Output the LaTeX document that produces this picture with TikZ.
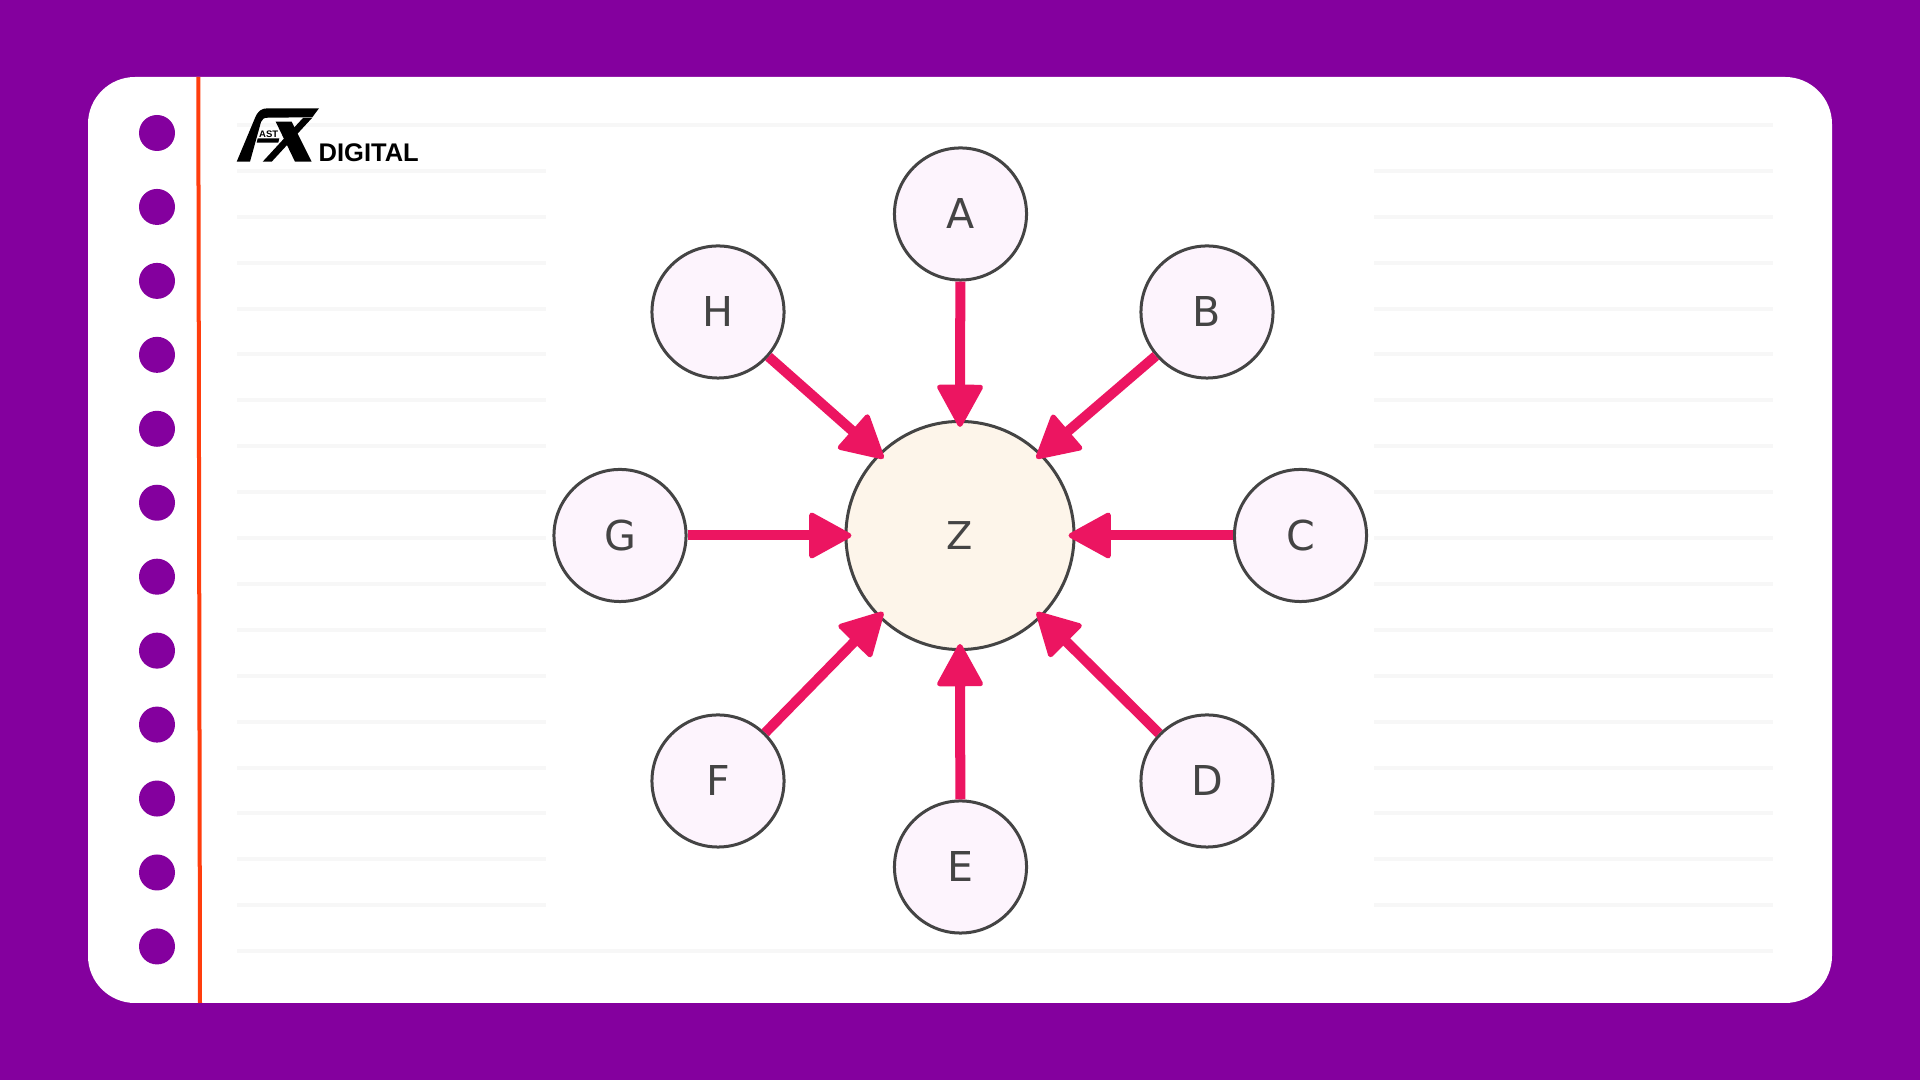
\documentclass[tikz,border=0pt]{standalone}
\usepackage{xcolor}
\usepackage{fontspec}
\usetikzlibrary{arrows.meta}
\newfontfamily\labelfont{DejaVu Sans}
\newfontfamily\logofont[BoldFont={Liberation Sans Bold}]{Liberation Sans}
\definecolor{ppurple}{HTML}{84009E}
\definecolor{marginred}{HTML}{FF3D0D}
\definecolor{rulegray}{HTML}{F7F7F7}
\definecolor{edgepink}{HTML}{EC1561}
\definecolor{nodeline}{HTML}{444444}
\definecolor{nodefill}{HTML}{FDF4FD}
\definecolor{hubfill}{HTML}{FDF5EA}
\tikzset{
  outernode/.style={circle,draw=nodeline,line width=0.03cm,fill=nodefill,minimum size=1.32cm,inner sep=0pt,text=nodeline,font=\labelfont\fontsize{11.7}{14}\selectfont},
  hubnode/.style={outernode,fill=hubfill,minimum size=2.28cm,font=\labelfont\fontsize{10.9}{13}\selectfont},
  edgearrow/.style={-{Triangle[length=0.45cm,width=0.48cm,round,line width=0.05cm]},line width=0.1cm,color=edgepink,shorten >=-0.07cm},
  ruleline/.style={line width=0.04cm,color=rulegray}
}
\begin{document}
\begin{tikzpicture}[line cap=butt,line join=round,x=0.01cm,y=-0.01cm]
\useasboundingbox (0,0) rectangle (1920,1080);
\fill[ppurple] (0,0) rectangle (1920,1080);
\fill[white,rounded corners=0.47cm] (88,77) rectangle (1832,1003);
% binding holes and margin
\foreach \i in {0,...,11}
  \fill[ppurple] (157,{133+73.95*\i}) circle (18);
\draw[line width=0.04cm,marginred] (198.3,77) -- (200,1003);
% ruled paper
\foreach \i in {0,18}
  \draw[ruleline] (237,{125+45.9*\i}) -- (1773,{125+45.9*\i});
\foreach \i in {1,...,17}{
  \draw[ruleline] (237,{125+45.9*\i}) -- (546,{125+45.9*\i});
  \draw[ruleline] (1374,{125+45.9*\i}) -- (1773,{125+45.9*\i});
}
% logo
\fill[black] (236.7,161.7) -- (255,118) .. controls (258,111) and (261,108.3) .. (268,108.3) -- (319,108.3) -- (312.3,117.3) -- (268,117.7) .. controls (264,117.7) and (262,119) .. (261,122) -- (250,161.7) -- cycle;
\fill[black] (275.7,121.7) -- (291.7,121.7) -- (311.7,161.7) -- (295,161.7) -- cycle;
\fill[black] (312,118) -- (271.7,161.7) -- (262.7,161.7) -- (303,118) -- cycle;
\fill[black] (257.7,138.3) -- (279.3,138.3) -- (278.3,142.7) -- (256.7,142.7) -- cycle;
\node[anchor=base west,inner sep=0pt,text=black,font=\logofont\bfseries\fontsize{2.7}{3}\selectfont] (logoast) at (258.5,137.7) {AST};
\node[anchor=base west,inner sep=0pt,text=black,font=\logofont\bfseries\fontsize{7.25}{8}\selectfont] (logodigital) at (318,161.7) {DIGITAL};
% nodes
\node[hubnode] (Z) at (960,535.5) {Z};
\node[outernode] (A) at (960.5,214) {A};
\node[outernode] (B) at (1207,312) {B};
\node[outernode] (C) at (1300.5,535.5) {C};
\node[outernode] (D) at (1207,781) {D};
\node[outernode] (E) at (960.5,867) {E};
\node[outernode] (F) at (718,781) {F};
\node[outernode] (G) at (620,535.5) {G};
\node[outernode] (H) at (718,312) {H};
% arrows into the hub
\draw[edgearrow] (A) -- (Z.90);
\draw[edgearrow] (B) -- (Z.45);
\draw[edgearrow] (C) -- (Z.0);
\draw[edgearrow] (D) -- (Z.315);
\draw[edgearrow] (E) -- (Z.270);
\draw[edgearrow] (F) -- (Z.225);
\draw[edgearrow] (G) -- (Z.180);
\draw[edgearrow] (H) -- (Z.135);
\end{tikzpicture}
\end{document}
